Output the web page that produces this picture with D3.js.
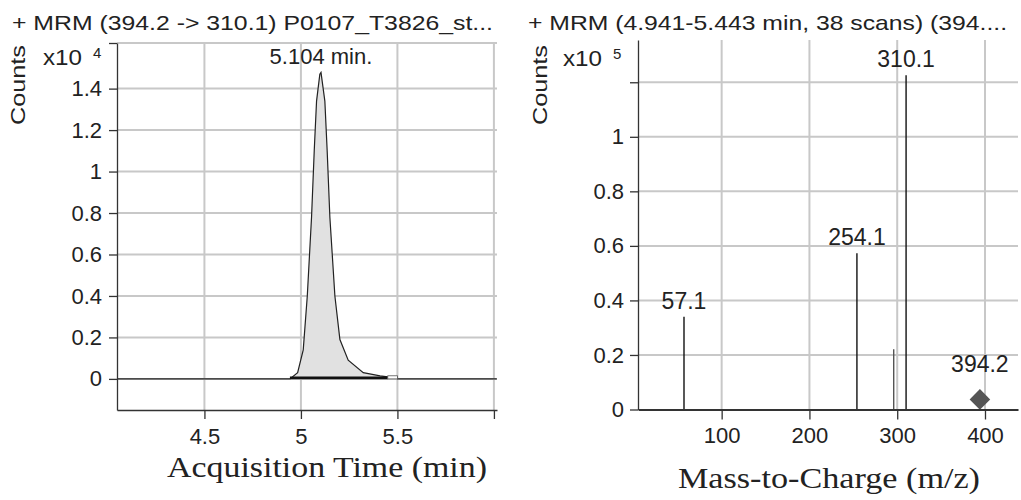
<!DOCTYPE html>
<html>
<head>
<meta charset="utf-8">
<script src="https://cdn.jsdelivr.net/npm/d3@7"></script>
<style>
  body { margin: 0; background: #fff; }
  svg { display: block; }
  text { fill: #222; }
</style>
</head>
<body>
<svg id="chart" width="1021" height="500"></svg>
<script>
// chromatogram (x10^4 counts vs acquisition time, min)
const chromTime = [4.05, 4.943, 4.983, 5.012, 5.033, 5.055, 5.069, 5.081, 5.098, 5.104,
  5.124, 5.136, 5.150, 5.176, 5.202, 5.245, 5.323, 5.41, 5.45, 5.497, 5.5, 6.015];
const chromCounts = [0, 0, 0.03, 0.14, 0.40, 0.78, 1.10, 1.34, 1.47, 1.478,
  1.34, 1.10, 0.78, 0.40, 0.19, 0.09, 0.03, 0.015, 0.01, 0.01, 0, 0];
const timeTicks = [4.5, 5, 5.5, 6];
const timeTickLabels = ['4.5', '5', '5.5', ''];
const chromYTicks = [0, 0.2, 0.4, 0.6, 0.8, 1, 1.2, 1.4, 1.62];
const chromYLabels = ['0', '0.2', '0.4', '0.6', '0.8', '1', '1.2', '1.4', ''];
const integRange = [4.943, 5.45];
const peakApex = 5.104;
const peakLabel = '5.104 min.';

// product ion spectrum (x10^5 counts vs m/z)
const mzValues = [57.1, 254.1, 296, 310.1];
const mzCounts = [0.34, 0.573, 0.221, 1.226];
const mzLabels = ['57.1', '254.1', '', '310.1'];
const precursorMz = 394.2;
const precursorCounts = 0.037;
const mzTicks = [100, 200, 300, 400];
const specYTicks = [0, 0.2, 0.4, 0.6, 0.8, 1, 1.2];
const specYLabels = ['0', '0.2', '0.4', '0.6', '0.8', '1', ''];

const leftTitle = '+ MRM (394.2 -> 310.1) P0107_T3826_st...';
const rightTitle = '+ MRM (4.941-5.443 min, 38 scans) (394....';

const svg = d3.select('#chart');
const sans = 'Liberation Sans, Arial, sans-serif';
const serif = 'Liberation Serif, Times New Roman, serif';

function styleAxis(g) {
  g.selectAll('path.domain').attr('stroke', '#333').attr('stroke-width', 1.3);
  g.selectAll('.tick line').attr('stroke', '#333').attr('stroke-width', 1.3);
  g.selectAll('.tick text')
    .attr('font-family', sans)
    .attr('font-size', 22)
    .attr('fill', '#222');
}

function frameText(opts) {
  // panel title, Counts label and exponent
  svg.append('text')
    .attr('x', opts.titleX).attr('y', 29.5)
    .attr('font-family', sans).attr('font-size', 21)
    .attr('textLength', opts.titleLen).attr('lengthAdjust', 'spacingAndGlyphs')
    .text(opts.title);
  svg.append('text')
    .attr('transform', `translate(${opts.countsX},85) rotate(-90)`)
    .attr('text-anchor', 'middle')
    .attr('font-family', sans).attr('font-size', 21)
    .attr('textLength', 80).attr('lengthAdjust', 'spacingAndGlyphs')
    .text('Counts');
  svg.append('text')
    .attr('x', opts.expX).attr('y', opts.expY)
    .attr('font-family', sans).attr('font-size', 22)
    .attr('textLength', 39).attr('lengthAdjust', 'spacingAndGlyphs')
    .text('x10');
  svg.append('text')
    .attr('x', opts.expX + 50).attr('y', opts.expY - 7)
    .attr('font-family', sans).attr('font-size', 15)
    .text(opts.exp);
  svg.append('text')
    .attr('x', opts.xTitleX).attr('y', opts.xTitleY)
    .attr('font-family', serif).attr('font-size', 30)
    .attr('textLength', opts.xTitleLen).attr('lengthAdjust', 'spacingAndGlyphs')
    .text(opts.xTitle);
}

// ---------- left panel: chromatogram ----------
const xT = d3.scaleLinear().domain([4.047, 6.016]).range([117, 497]);
const yT = d3.scaleLinear().domain([-0.15, 1.62]).range([410, 43]);

const gl = svg.append('g');
gl.selectAll('.vgrid')
  .data(timeTicks)
  .enter()
  .append('line')
  .attr('x1', d => xT(d)).attr('x2', d => xT(d))
  .attr('y1', yT.range()[1]).attr('y2', yT.range()[0])
  .attr('stroke', '#c8c8c8').attr('stroke-width', 2);
gl.selectAll('.hgrid')
  .data(chromYTicks)
  .enter()
  .append('line')
  .attr('x1', xT.range()[0]).attr('x2', xT.range()[1])
  .attr('y1', d => yT(d)).attr('y2', d => yT(d))
  .attr('stroke', '#c8c8c8').attr('stroke-width', 2);

const chrom = chromTime.map((t, i) => ({ t: t, c: chromCounts[i] }));
const peakPts = chrom.filter(d => d.t >= integRange[0] && d.t <= integRange[1]);

gl.append('path')
  .datum(peakPts)
  .attr('d', d3.area().x(d => xT(d.t)).y0(yT(0.005)).y1(d => yT(d.c)))
  .attr('fill', '#e1e1e1');

gl.append('path')
  .datum(chrom)
  .attr('d', d3.line().x(d => xT(d.t)).y(d => yT(d.c)))
  .attr('fill', 'none')
  .attr('stroke', '#222')
  .attr('stroke-width', 1.2);

// integration baseline
gl.append('line')
  .attr('x1', xT(integRange[0])).attr('x2', xT(integRange[1]))
  .attr('y1', yT(0.005)).attr('y2', yT(0.005))
  .attr('stroke', '#111').attr('stroke-width', 2.6);
gl.append('rect')
  .attr('x', xT(integRange[1])).attr('y', yT(0.015))
  .attr('width', xT(5.5) - xT(integRange[1])).attr('height', yT(0) - yT(0.015))
  .attr('fill', '#fff').attr('stroke', '#555').attr('stroke-width', 0.8);

gl.append('text')
  .attr('x', xT(peakApex)).attr('y', yT(1.478) - 8)
  .attr('text-anchor', 'middle')
  .attr('font-family', sans).attr('font-size', 22)
  .text(peakLabel);

const xAxisL = gl.append('g')
  .attr('transform', 'translate(0,410)')
  .call(d3.axisBottom(xT).tickValues(timeTicks)
    .tickFormat((d, i) => timeTickLabels[i]).tickSize(9).tickSizeOuter(0).tickPadding(9));
styleAxis(xAxisL);
const yAxisL = gl.append('g')
  .attr('transform', 'translate(117,0)')
  .call(d3.axisLeft(yT).tickValues(chromYTicks)
    .tickFormat((d, i) => chromYLabels[i]).tickSize(8).tickSizeOuter(0).tickPadding(7));
styleAxis(yAxisL);

frameText({
  title: leftTitle, titleX: 12, titleLen: 481,
  countsX: 25, expX: 43, expY: 65, exp: '4',
  xTitle: 'Acquisition Time (min)', xTitleX: 167, xTitleY: 477, xTitleLen: 320
});

// ---------- right panel: spectrum ----------
const xM = d3.scaleLinear().domain([4.7, 437.6]).range([638, 1018]);
const yM = d3.scaleLinear().domain([0, 1.355]).range([409.5, 40]);

const gr = svg.append('g');
gr.selectAll('.vgrid')
  .data(mzTicks)
  .enter()
  .append('line')
  .attr('x1', d => xM(d)).attr('x2', d => xM(d))
  .attr('y1', yM.range()[1]).attr('y2', yM.range()[0])
  .attr('stroke', '#c8c8c8').attr('stroke-width', 2);
gr.selectAll('.hgrid')
  .data(specYTicks.slice(1))
  .enter()
  .append('line')
  .attr('x1', xM.range()[0]).attr('x2', xM.range()[1])
  .attr('y1', d => yM(d)).attr('y2', d => yM(d))
  .attr('stroke', '#c8c8c8').attr('stroke-width', 2);

const spec = mzValues.map((m, i) => ({ m: m, c: mzCounts[i], label: mzLabels[i] }));
gr.selectAll('.ion')
  .data(spec)
  .enter()
  .append('line')
  .attr('x1', d => xM(d.m)).attr('x2', d => xM(d.m))
  .attr('y1', yM(0)).attr('y2', d => yM(d.c))
  .attr('stroke', d => d.label ? '#111' : '#555')
  .attr('stroke-width', 1.4);
gr.selectAll('.ionLabel')
  .data(spec.filter(d => d.label))
  .enter()
  .append('text')
  .attr('x', d => xM(d.m)).attr('y', d => yM(d.c) - 8)
  .attr('text-anchor', 'middle')
  .attr('font-family', sans).attr('font-size', 23)
  .text(d => d.label);

gr.append('path')
  .attr('d', d3.symbol().type(d3.symbolDiamond2).size(270)())
  .attr('transform', `translate(${xM(precursorMz)},${yM(precursorCounts)})`)
  .attr('fill', '#555');
gr.append('text')
  .attr('x', xM(precursorMz)).attr('y', yM(precursorCounts) - 27)
  .attr('text-anchor', 'middle')
  .attr('font-family', sans).attr('font-size', 23)
  .text(precursorMz.toFixed(1));

const xAxisR = gr.append('g')
  .attr('transform', `translate(0,${yM(0)})`)
  .call(d3.axisBottom(xM).tickValues(mzTicks).tickSize(10).tickSizeOuter(0).tickPadding(8));
styleAxis(xAxisR);
xAxisR.select('path.domain').attr('stroke-width', 2);
const yAxisR = gr.append('g')
  .attr('transform', 'translate(638,0)')
  .call(d3.axisLeft(yM).tickValues(specYTicks)
    .tickFormat((d, i) => specYLabels[i]).tickSize(8).tickSizeOuter(0).tickPadding(6));
styleAxis(yAxisR);

frameText({
  title: rightTitle, titleX: 528, titleLen: 479,
  countsX: 547, expX: 563, expY: 66, exp: '5',
  xTitle: 'Mass-to-Charge (m/z)', xTitleX: 678, xTitleY: 488, xTitleLen: 302
});
</script>
</body>
</html>
